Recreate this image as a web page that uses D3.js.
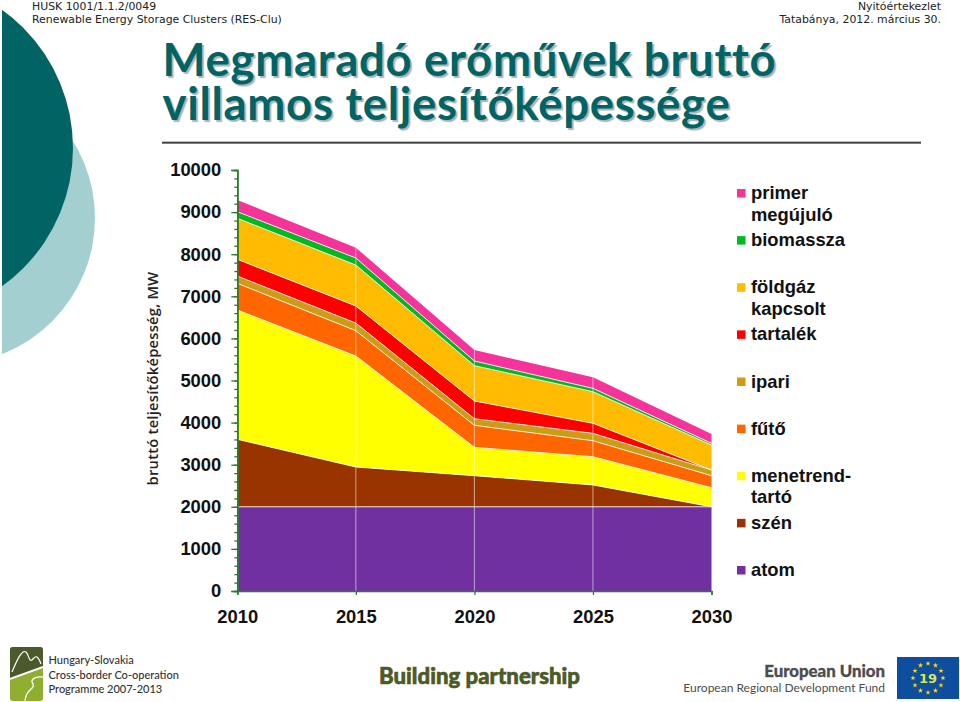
<!DOCTYPE html>
<html>
<head>
<meta charset="utf-8">
<script src="https://cdn.jsdelivr.net/npm/d3@7"></script>
<style>
  html, body { margin: 0; padding: 0; background: #fff; }
  svg { display: block; }
  .tick-label { font-family: "Liberation Sans", Arial, sans-serif; font-weight: bold; font-size: 18.4px; fill: #111; }
  .slide-title { font-family: Lato, sans-serif; font-weight: 700; font-size: 45.5px; letter-spacing: 0.7px; fill: #006464; text-shadow: 2px 2px 1px #aab4b8; }
</style>
</head>
<body>
<svg id="chart" width="960" height="702"></svg>
<script>
const years = [2010, 2015, 2020, 2025, 2030];
const yTicks = [0, 1000, 2000, 3000, 4000, 5000, 6000, 7000, 8000, 9000, 10000];

// layer sizes in MW, bottom to top
const atom      = [2000, 2000, 2000, 2000, 2000];
const szen      = [1603,  945,  739,  518,    0];
const menetrend = [3072, 2637,  674,  672,  454];
const futo      = [ 633,  601,  522,  380,  285];
const ipari     = [ 174,  182,  158,  175,  135];
const tartalek  = [ 396,  405,  420,  238,    0];
const foldgaz   = [ 975,  973,  839,  751,  594];
const biomassza = [ 157,  167,  111,   80,   40];
const primer    = [ 277,  245,  261,  261,  221];

const seriesKeys = ["atom", "szen", "menetrend", "futo", "ipari", "tartalek", "foldgaz", "biomassza", "primer"];
const seriesValues = [atom, szen, menetrend, futo, ipari, tartalek, foldgaz, biomassza, primer];
const seriesColors = ["#7030a0", "#993300", "#ffff00", "#ff6600", "#cc9c14", "#ff0000", "#ffbb00", "#00b81f", "#f5339b"];

const legendKeys = ["primer", "biomassza", "foldgaz", "tartalek", "ipari", "futo", "menetrend", "szen", "atom"];
const legendLabels = [["primer", "megújuló"], ["biomassza"], ["földgáz", "kapcsolt"], ["tartalék"], ["ipari"], ["fűtő"], ["menetrend-", "tartó"], ["szén"], ["atom"]];

const svg = d3.select("#chart");
const W = 960, H = 702;

// slide background circles
const bg = svg.append("g");
bg.append("clipPath").attr("id", "leftClip").append("rect").attr("x", 2).attr("y", 0).attr("width", W).attr("height", H);
const circles = bg.append("g").attr("clip-path", "url(#leftClip)");
circles.append("circle").attr("cx", -51).attr("cy", 218).attr("r", 146).attr("fill", "#a3cfd0");
circles.append("circle").attr("cx", -97).attr("cy", 148).attr("r", 170).attr("fill", "#006464");

// header
const headFont = '"DejaVu Sans", Verdana, sans-serif';
const head = svg.append("g").attr("font-family", headFont).attr("font-size", 10.9).attr("fill", "#222");
head.append("text").attr("x", 32).attr("y", 10).text("HUSK 1001/1.1.2/0049");
head.append("text").attr("x", 32).attr("y", 22.5).text("Renewable Energy Storage Clusters (RES-Clu)");
head.append("text").attr("x", 941).attr("y", 10).attr("text-anchor", "end").text("Nyitóértekezlet");
head.append("text").attr("x", 941).attr("y", 22.5).attr("text-anchor", "end").text("Tatabánya, 2012. március 30.");

// title
const titleLines = ["Megmaradó erőművek bruttó", "villamos teljesítőképessége"];
svg.selectAll("text.slide-title").data(titleLines).join("text")
  .attr("class", "slide-title")
  .attr("x", 162.5).attr("y", (d, i) => 76 + i * 44)
  .text(d => d);
svg.append("line").attr("x1", 162).attr("x2", 921).attr("y1", 141.6).attr("y2", 141.6).attr("stroke", "#bbb").attr("stroke-width", 1);
svg.append("line").attr("x1", 162).attr("x2", 921).attr("y1", 142.8).attr("y2", 142.8).attr("stroke", "#000").attr("stroke-width", 1.2);

// chart
const x = d3.scaleLinear().domain([2010, 2030]).range([237.3, 711.5]);
const y = d3.scaleLinear().domain([0, 10000]).range([591, 170]);

const rows = years.map((yr, i) => {
  const row = { year: yr };
  seriesKeys.forEach((k, j) => { row[k] = seriesValues[j][i]; });
  return row;
});
const stacked = d3.stack().keys(seriesKeys)(rows);
const area = d3.area().x(d => x(d.data.year)).y0(d => y(d[0])).y1(d => y(d[1]));
const topLine = d3.line().x(d => x(d.data.year)).y(d => y(d[1]));

svg.append("g").selectAll("path").data(stacked).join("path")
  .attr("d", area)
  .attr("fill", (d, i) => seriesColors[i]);

// thin pale seams between the layers
svg.append("g").selectAll("path").data(stacked.slice(0, -1)).join("path")
  .attr("d", topLine)
  .attr("fill", "none").attr("stroke", "#fff").attr("stroke-opacity", 0.8).attr("stroke-width", 1);

// pale drop lines
svg.append("g").selectAll("line").data(stacked[stacked.length - 1].slice(1, -1)).join("line")
  .attr("x1", d => x(d.data.year)).attr("x2", d => x(d.data.year))
  .attr("y1", d => y(d[1])).attr("y2", y(0))
  .attr("stroke", "#fff").attr("stroke-opacity", 0.55).attr("stroke-width", 1);

// axes
const axisColor = "#2a7d2e";
const minorTicks = d3.range(0, 10001, 200);
const yMinor = svg.append("g").attr("transform", `translate(${x(2010)},0)`)
  .call(d3.axisLeft(y).tickValues(minorTicks).tickSize(3).tickFormat(""));
const yAxis = svg.append("g").attr("transform", `translate(${x(2010)},0)`)
  .call(d3.axisLeft(y).tickValues(yTicks).tickSize(6).tickPadding(10).tickFormat(d3.format("d")));
const xAxis = svg.append("g").attr("transform", `translate(0,${y(0)})`)
  .call(d3.axisBottom(x).tickValues(years).tickSize(4).tickPadding(15).tickFormat(d3.format("d")));
[yMinor, yAxis, xAxis].forEach(a => {
  a.selectAll("line").attr("stroke", axisColor).attr("stroke-width", 1.3);
  a.select(".domain").attr("stroke", axisColor).attr("stroke-width", 1.6);
  a.selectAll("text").attr("class", "tick-label");
});

svg.append("text")
  .attr("transform", "translate(158,378.5) rotate(-90)")
  .attr("text-anchor", "middle").attr("font-family", '"Open Sans", sans-serif').attr("font-weight", 600)
  .attr("font-size", 14.7).attr("letter-spacing", 0.25).attr("fill", "#222")
  .text("bruttó teljesítőképesség, MW");

// legend
const legendY = d3.scalePoint().domain(legendKeys).range([193, 570]);
const legend = svg.append("g").selectAll("g").data(legendKeys).join("g")
  .attr("transform", k => `translate(737,${legendY(k)})`);
legend.append("rect").attr("x", 0).attr("y", -4).attr("width", 8.5).attr("height", 8.5)
  .attr("fill", k => seriesColors[seriesKeys.indexOf(k)]);
legend.each(function (k, i) {
  legendLabels[i].forEach((line, n) => {
    d3.select(this).append("text").attr("class", "tick-label")
      .attr("x", 14).attr("y", 6 + n * 21.5).text(line);
  });
});

// footer: programme logo
const logo = svg.append("g");
logo.append("rect").attr("x", 10).attr("y", 647).attr("width", 33).attr("height", 54).attr("rx", 3).attr("fill", "#8fae2f");
logo.append("path").attr("d", "M10,650 Q10,647 13,647 L40,647 Q43,647 43,650 L43,668 L10,680 Z").attr("fill", "#4b5a2a");
logo.append("path").attr("d", "M10,679 L43,667").attr("stroke", "#fff").attr("stroke-width", 2).attr("fill", "none");
logo.append("path").attr("d", "M12,672 C17,660 22,649 26,652 C29,655 29,662 32,660 C35,657 37,653 41,664")
  .attr("stroke", "#fff").attr("stroke-width", 1.2).attr("fill", "none");
logo.append("path").attr("d", "M43,677 C34,676 30,680 33,684 C36,689 26,688 25,701")
  .attr("stroke", "#fff").attr("stroke-width", 1.3).attr("fill", "none");
const logoText = ["Hungary-Slovakia", "Cross-border Co-operation", "Programme 2007-2013"];
logoText.forEach((t, i) => {
  logo.append("text").attr("x", 48.5).attr("y", 664 + i * 14.7)
    .attr("font-family", "Lato, sans-serif").attr("font-size", 11).attr("font-weight", 500).attr("fill", "#333").text(t);
});

svg.append("text").attr("x", 379).attr("y", 684).attr("font-family", "Lato, sans-serif").attr("font-weight", 900)
  .attr("font-size", 22.2).attr("fill", "#4d5a26").attr("stroke", "#4d5a26").attr("stroke-width", 0.6).text("Building partnership");

svg.append("text").attr("x", 885).attr("y", 677).attr("text-anchor", "end").attr("font-family", "Lato, sans-serif")
  .attr("font-weight", 900).attr("font-size", 16.8).attr("fill", "#4d4d4d").attr("stroke", "#4d4d4d").attr("stroke-width", 0.3).text("European Union");
svg.append("text").attr("x", 885).attr("y", 692).attr("text-anchor", "end").attr("font-family", "Lato, sans-serif")
  .attr("font-size", 12).attr("fill", "#4d4d4d").text("European Regional Development Fund");

// EU flag with slide number
const flag = svg.append("g").attr("transform", "translate(928,678)");
flag.append("rect").attr("x", -31).attr("y", -21).attr("width", 62).attr("height", 42).attr("fill", "#0e4da0");
const starAngle = d3.scaleLinear().domain([0, 12]).range([0, 2 * Math.PI]);
flag.selectAll("path").data(d3.range(12)).join("path")
  .attr("d", d3.symbol(d3.symbolStar, 9))
  .attr("transform", i => `translate(${15 * Math.sin(starAngle(i))},${-14.5 * Math.cos(starAngle(i))})`)
  .attr("fill", "#ffdd00");
flag.append("text").attr("y", 5).attr("text-anchor", "middle").attr("font-family", headFont).attr("font-weight", "bold")
  .attr("font-size", 13).attr("fill", "#d8e84a").text("19");
</script>
</body>
</html>
